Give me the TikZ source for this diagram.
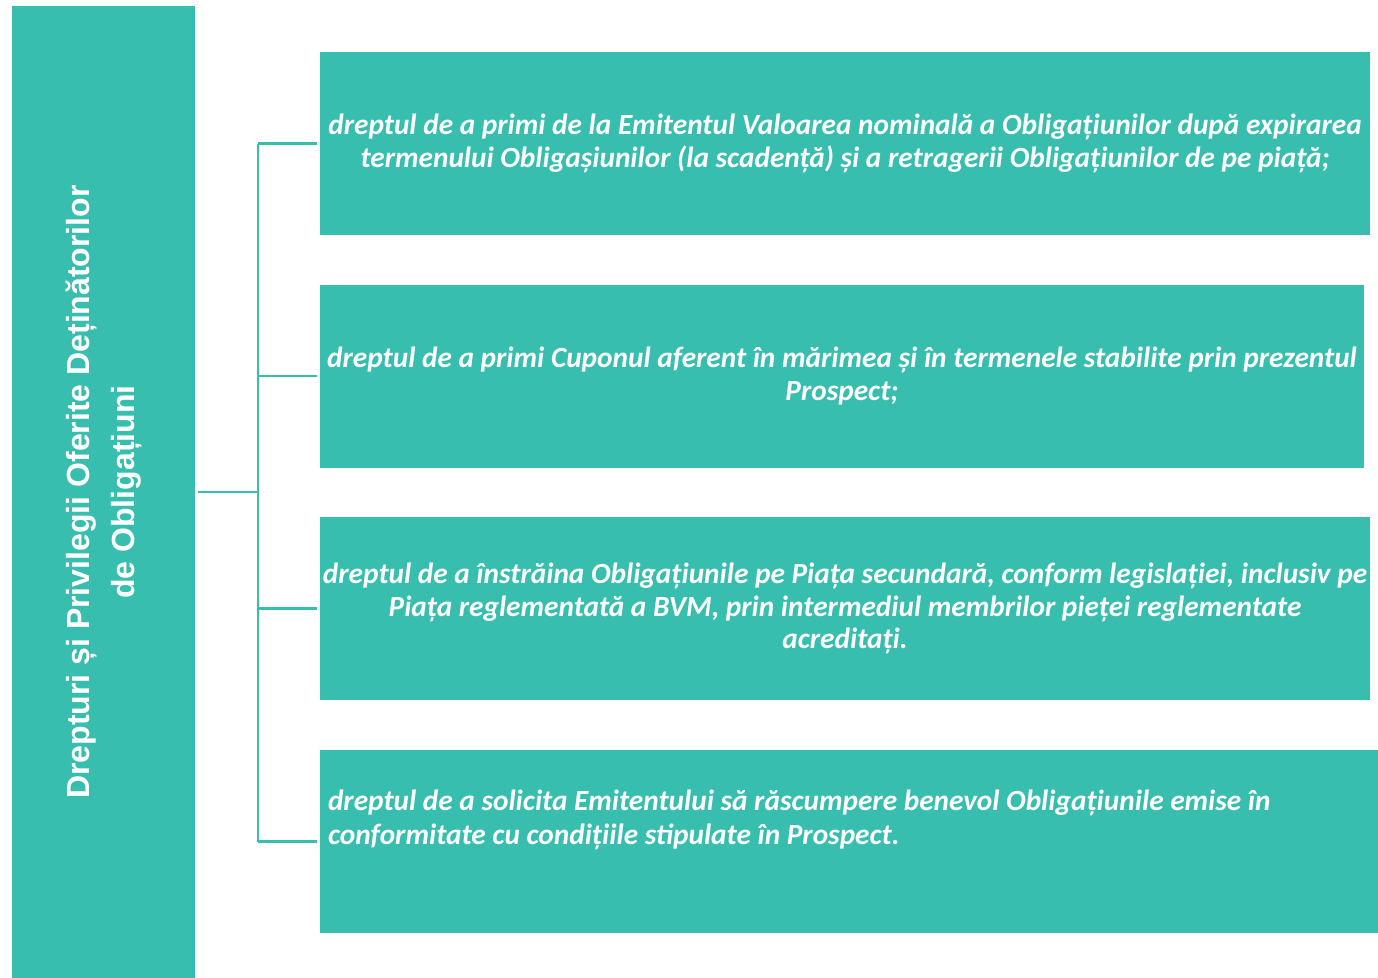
\documentclass[tikz,border=0pt]{standalone}
\usepackage{fontspec}
\setmainfont{Carlito}
\newfontfamily\titlefont{Liberation Sans}
\usetikzlibrary{positioning, calc}
\definecolor{tealbox}{RGB}{56,190,174}

\begin{document}
\begin{tikzpicture}[x=1pt,y=-1pt,box/.style={fill=tealbox, draw=none, text=white, inner sep=0pt, minimum height=183, font=\fontsize{29.3}{32.5}\selectfont\bfseries\itshape, align=center},link/.style={draw=tealbox, line width=2.4pt}]
\useasboundingbox (0,0) rectangle (1378,977);
\node[box, rotate=90, minimum width=973, minimum height=183, font=\titlefont\fontsize{32}{45}\selectfont\bfseries] (title) at (103.5,492) {Drepturi și Privilegii Oferite Deținătorilor\\de Obligațiuni};
\node[box, minimum width=1050] (r1) at (845,143.5) {dreptul de a primi de la Emitentul Valoarea nominală a Obligațiunilor după expirarea\\termenului Obligașiunilor (la scadență) și a retragerii Obligațiunilor de pe piață;};
\node[box, minimum width=1044] (r2) at (842,376) {dreptul de a primi Cuponul aferent în mărimea și în termenele stabilite prin prezentul\\Prospect;};
\node[box, minimum width=1050] (r3) at (845,608.5) {dreptul de a înstrăina Obligațiunile pe Piața secundară, conform legislației, inclusiv pe\\Piața reglementată a BVM, prin intermediul membrilor pieței reglementate\\acreditați.};
\node[box, minimum width=1058] (r4) at (849,841.5) {};
\node[text=white, inner sep=0pt, anchor=base west, align=left, font=\fontsize{29.3}{34}\selectfont\bfseries\itshape] (r4text) at ($(r4.north west)+(8,95)$) {dreptul de a solicita Emitentului să răscumpere benevol Obligațiunile emise în\\conformitate cu condițiile stipulate în Prospect.};
\coordinate (bus) at (258,492);
\draw[link] (title.south |- bus) ++(3,0) -- (bus); \draw[link] (bus |- r1.west) -- (bus |- r4.west);
\foreach \i in {1,2,3,4}
	\draw[link, shorten >=3pt] (bus |- r\i.west) -- (r\i.west);
\end{tikzpicture}
\end{document}
